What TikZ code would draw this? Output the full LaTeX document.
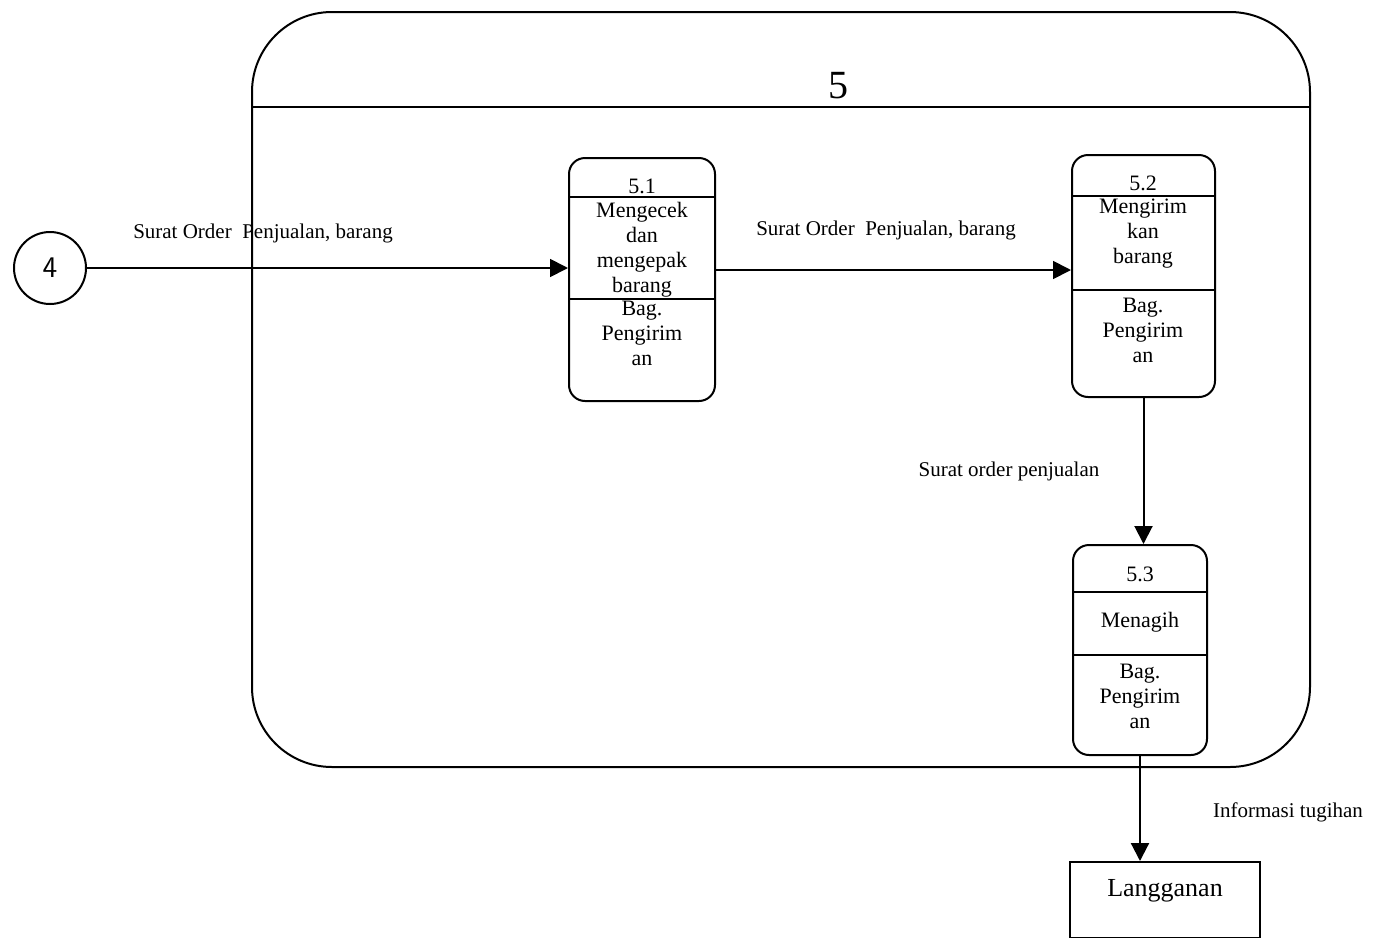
\documentclass[tikz,border=0pt]{standalone}
\usepackage{fontspec}
\setmainfont{Liberation Serif}
\usetikzlibrary{arrows.meta}
\begin{document}
\begin{tikzpicture}[x=0.5pt,y=-0.5pt,
  proc/.style={draw,line width=1pt,rounded corners=8pt,inner sep=0pt},
  flow/.style={line width=0.9pt,-{Triangle[length=9pt,width=9pt]}},
  txt/.style={font=\fontsize{11}{12.5}\selectfont,align=center,inner sep=0pt},
  lbl/.style={font=\fontsize{10.5}{12.5}\selectfont,inner sep=0pt}]
\useasboundingbox (0,0) rectangle (1373,938);
% outer process 5
\node[draw,line width=1pt,rounded corners=40pt,minimum width=529pt,minimum height=377.5pt,inner sep=0pt] (outer) at (781,389.5) {};
\draw[line width=1pt] (252,107) -- (1310,107);
\node[font=\fontsize{20}{22}\selectfont,inner sep=0pt] (t5) at (838,86) {5};
% external entity 4
\node[draw,circle,line width=1pt,minimum size=36pt,inner sep=0pt,font=\sffamily\fontsize{15}{16}\selectfont] (c4) at (50,268) {4};
% process 5.1
\node[proc,minimum width=73pt,minimum height=121.5pt] (p1) at (642,279.5) {};
\draw[line width=0.8pt] (569,197) -- (715,197);
\draw[line width=0.8pt] (569,299) -- (715,299);
\node[txt] (p1n) at (642,186) {5.1};
\node[txt,anchor=north] (p1t) at (642,202) {Mengecek\\dan\\mengepak\\barang};
\node[txt,anchor=north] (p1b) at (642,301) {Bag.\\Pengirim\\an};
% process 5.2
\node[proc,minimum width=71.5pt,minimum height=121pt] (p2) at (1143.5,276) {};
\draw[line width=0.8pt] (1072,196) -- (1215,196);
\draw[line width=0.8pt] (1072,290) -- (1215,290);
\node[txt] (p2n) at (1143,183) {5.2};
\node[txt,anchor=north] (p2t) at (1143,199) {Mengirim\\kan\\barang};
\node[txt,anchor=north] (p2b) at (1143,298) {Bag.\\Pengirim\\an};
% process 5.3
\node[proc,minimum width=67pt,minimum height=105pt] (p3) at (1140,650) {};
\draw[line width=0.8pt] (1073,592) -- (1207,592);
\draw[line width=0.8pt] (1073,655) -- (1207,655);
\node[txt] (p3n) at (1140,574) {5.3};
\node[txt] (p3t) at (1140,622) {Menagih};
\node[txt,anchor=north] (p3b) at (1140,664) {Bag.\\Pengirim\\an};
% external entity Langganan
\node[draw,line width=1pt,minimum width=95pt,minimum height=38pt,inner sep=0pt] (lg) at (1165,900) {};
\node[font=\fontsize{13}{15}\selectfont,inner sep=0pt] (lgt) at (1165,891) {Langganan};
% flows
\draw[flow] (c4.east) -- (c4.east -| p1.west);
\node[lbl] (l1) at (263,233) {Surat Order\ \ Penjualan, barang};
\draw[flow] ([yshift=4.75pt]p1.east) -- ([yshift=4.75pt]p1.east -| p2.west);
\node[lbl] (l2) at (886,230) {Surat Order\ \ Penjualan, barang};
\draw[flow,line width=1pt] (p2.south) -- (p2.south |- p3.north);
\node[lbl] (l3) at (1009,471) {Surat order penjualan};
\draw[flow,line width=1.1pt] (p3.south) -- (p3.south |- lg.north);
\node[lbl] (l4) at (1288,812) {Informasi tugihan};
\end{tikzpicture}
\end{document}
